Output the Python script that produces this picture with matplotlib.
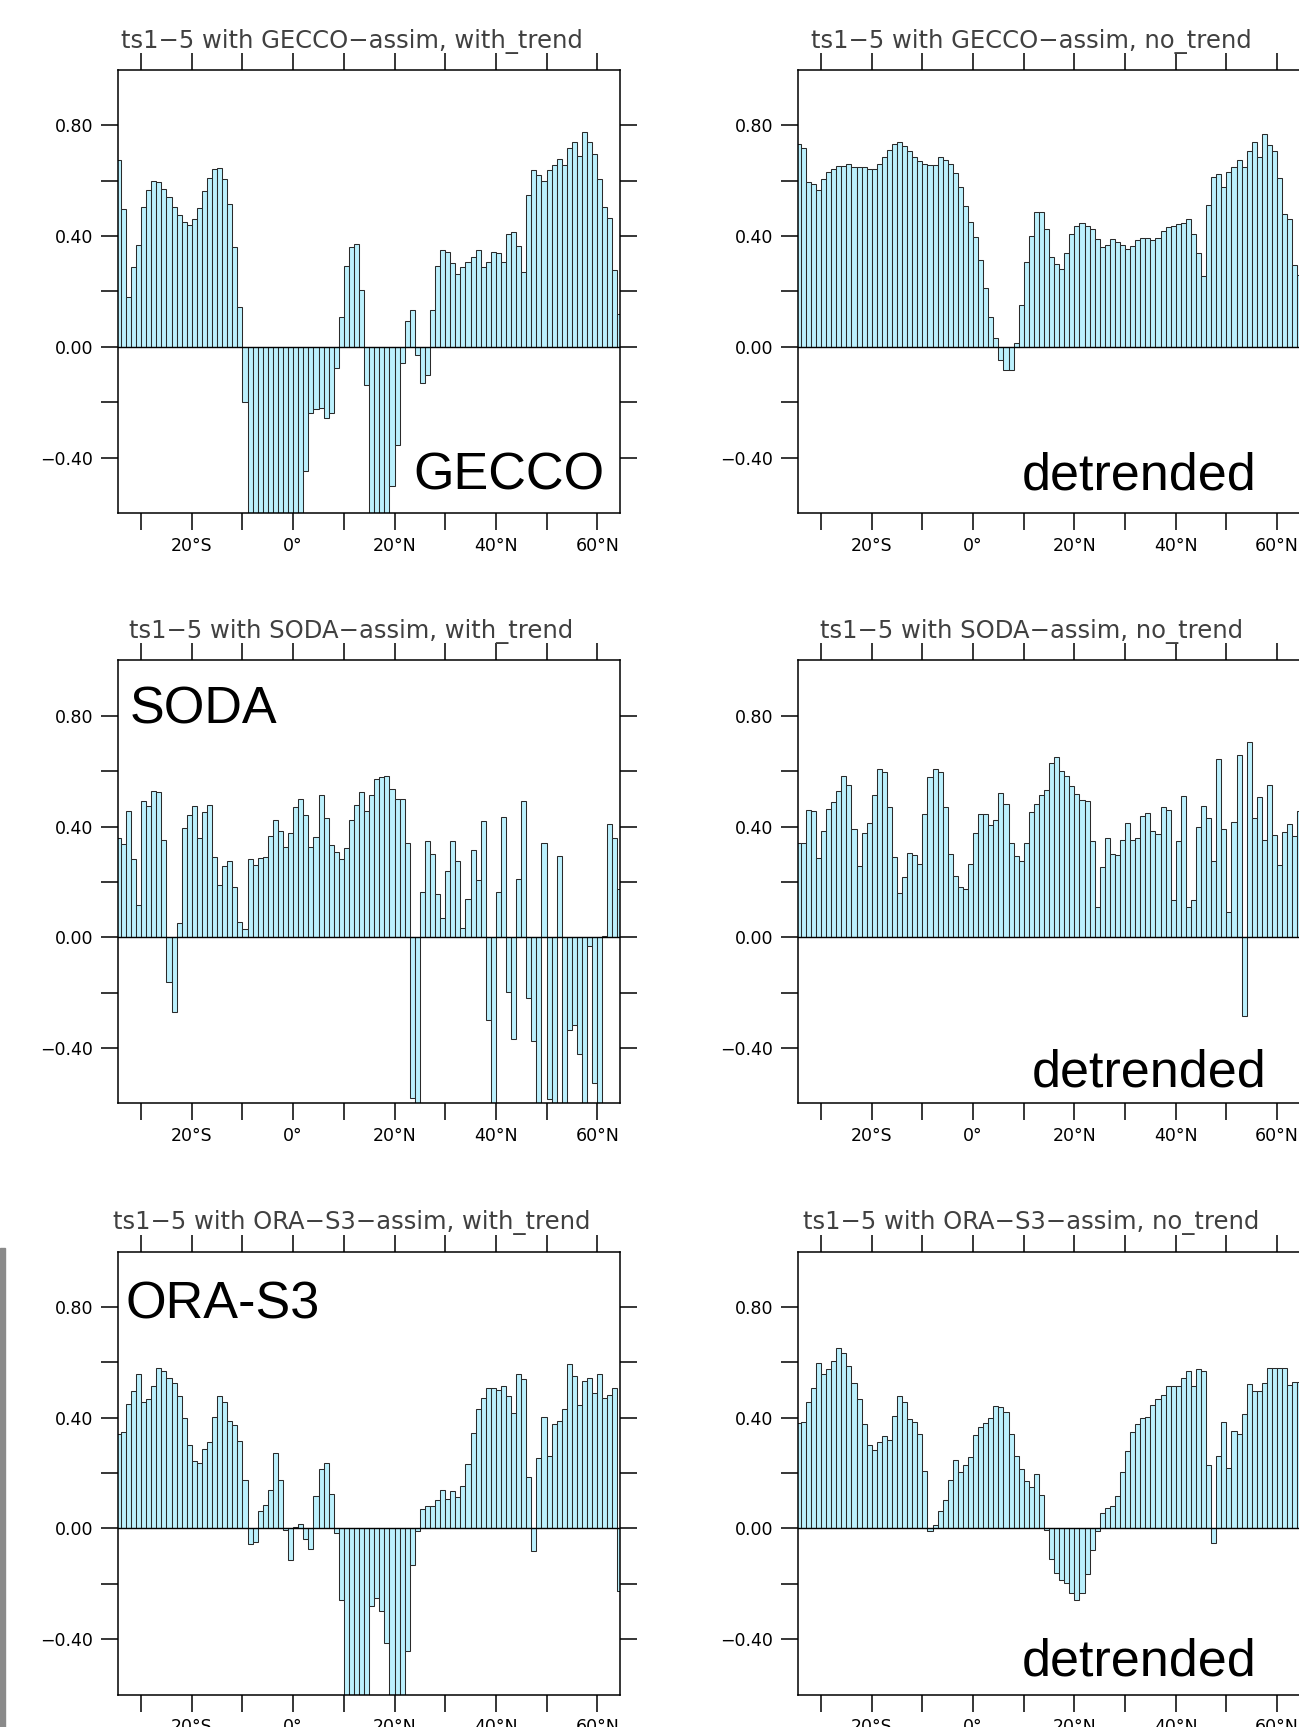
import numpy as np
import matplotlib
matplotlib.use('Agg')
import matplotlib.pyplot as plt
from matplotlib.patches import Rectangle

# bar centres (1 degree bins); values below -0.6 run off the panel
lat = np.arange(-34.5, 65.0, 1.0)

gecco_trend = [
    0.676, 0.498, 0.18, 0.289, 0.366, 0.505, 0.566, 0.60, 0.595, 0.571,
    0.54, 0.504, 0.476, 0.449, 0.44, 0.462, 0.503, 0.562, 0.61, 0.642,
    0.646, 0.606, 0.514, 0.36, 0.144, -0.2,
    -0.7, -0.7, -0.7, -0.7, -0.7, -0.7, -0.7, -0.7, -0.7, -0.7, -0.7,
    -0.448, -0.238, -0.224, -0.222, -0.258, -0.238, -0.078, 0.106, 0.292, 0.36,
    0.372, 0.204, -0.138, -0.7, -0.7, -0.7, -0.7, -0.504, -0.356, -0.06,
    0.094, 0.134, -0.03, -0.132, -0.102, 0.134, 0.292, 0.348, 0.342, 0.304,
    0.264, 0.288, 0.306, 0.326, 0.348, 0.288, 0.306, 0.342, 0.338, 0.308,
    0.406, 0.414, 0.365, 0.27, 0.55, 0.638, 0.62, 0.598, 0.638, 0.658,
    0.68, 0.656, 0.718, 0.738, 0.688, 0.775, 0.738, 0.696, 0.606, 0.504,
    0.466, 0.276, 0.12]
gecco_notrend = [
    0.734, 0.718, 0.594, 0.588, 0.566, 0.606, 0.632, 0.642, 0.652, 0.654,
    0.66, 0.648, 0.648, 0.648, 0.642, 0.642, 0.66, 0.684, 0.71, 0.732,
    0.738, 0.726, 0.708, 0.684, 0.672, 0.66, 0.656, 0.656, 0.684, 0.674,
    0.66, 0.628, 0.576, 0.51, 0.452, 0.396, 0.312, 0.212, 0.108, 0.032,
    -0.046, -0.082, -0.082, 0.014, 0.152, 0.306, 0.402, 0.486, 0.488, 0.426,
    0.326, 0.298, 0.28, 0.34, 0.406, 0.437, 0.448, 0.436, 0.426, 0.39,
    0.362, 0.368, 0.39, 0.38, 0.366, 0.354, 0.364, 0.384, 0.392, 0.392,
    0.384, 0.394, 0.42, 0.432, 0.436, 0.444, 0.446, 0.46, 0.408, 0.34,
    0.254, 0.512, 0.614, 0.624, 0.576, 0.63, 0.65, 0.674, 0.648, 0.708,
    0.74, 0.686, 0.77, 0.73, 0.708, 0.608, 0.48, 0.462, 0.294, 0.26]
soda_trend = [
    0.36, 0.336, 0.457, 0.283, 0.115, 0.492, 0.474, 0.527, 0.525, 0.351,
    -0.16, -0.271, 0.05, 0.395, 0.443, 0.475, 0.357, 0.453, 0.479, 0.29,
    0.187, 0.256, 0.275, 0.182, 0.056, 0.03, 0.281, 0.26, 0.288, 0.289,
    0.365, 0.425, 0.383, 0.327, 0.375, 0.47, 0.498, 0.443, 0.327, 0.363,
    0.515, 0.431, 0.333, 0.307, 0.282, 0.324, 0.423, 0.479, 0.525,
    0.457, 0.513, 0.571, 0.579, 0.582, 0.537, 0.5, 0.5, 0.342, -0.58,
    -0.7, 0.162, 0.347, 0.302, 0.158, 0.071, 0.239, 0.347, 0.275, 0.032,
    0.138, 0.315, 0.206, 0.419, -0.298, -0.7, 0.162, 0.435, -0.196, -0.366,
    0.21, 0.491, -0.22, -0.376, -0.7, 0.342, -0.583, -0.7, 0.295, -0.7,
    -0.334, -0.318, -0.421, -0.7, -0.03, -0.526, -0.7, 0.005, 0.41, 0.36,
    0.173]
soda_notrend = [
    0.341, 0.339, 0.459, 0.456, 0.288, 0.383, 0.462, 0.489, 0.528, 0.581,
    0.549, 0.392, 0.258, 0.377, 0.414, 0.513, 0.606, 0.597, 0.471, 0.29,
    0.161, 0.216, 0.306, 0.297, 0.264, 0.447, 0.579, 0.606, 0.597, 0.471,
    0.3, 0.223, 0.18, 0.175, 0.266, 0.375, 0.447, 0.447, 0.407, 0.423,
    0.521, 0.483, 0.342, 0.294, 0.275, 0.341, 0.454, 0.483, 0.513, 0.533,
    0.629, 0.651, 0.599, 0.581, 0.545, 0.519, 0.495, 0.492, 0.347, 0.11,
    0.254, 0.36, 0.302, 0.297, 0.353, 0.414, 0.353, 0.357, 0.438, 0.449,
    0.384, 0.372, 0.471, 0.459, 0.134, 0.347, 0.509, 0.108, 0.134, 0.399,
    0.473, 0.432, 0.275, 0.645, 0.39, 0.09, 0.417, 0.659, -0.286, 0.707,
    0.432, 0.507, 0.353, 0.551, 0.371, 0.26, 0.381, 0.408, 0.366, 0.455]
ora_trend = [
    0.342, 0.347, 0.449, 0.498, 0.558, 0.456, 0.467, 0.516, 0.579, 0.57,
    0.545, 0.525, 0.48, 0.399, 0.3, 0.245, 0.236, 0.288, 0.312, 0.402,
    0.479, 0.457, 0.387, 0.372, 0.315, 0.176, -0.055, -0.048, 0.062, 0.086,
    0.14, 0.271, 0.176, -0.007, -0.114, 0.006, 0.017, -0.037, -0.076, 0.116,
    0.216, 0.236, 0.125, -0.018, -0.258,
    -0.7, -0.7, -0.7, -0.7, -0.7, -0.28, -0.25, -0.298, -0.415, -0.7,
    -0.7, -0.7, -0.442, -0.132, -0.01, 0.071, 0.08, 0.082, 0.101, 0.137,
    0.108, 0.134, 0.115, 0.152, 0.233, 0.343, 0.432, 0.47, 0.506, 0.506,
    0.5, 0.515, 0.479, 0.417, 0.557, 0.54, 0.185, -0.082, 0.253, 0.401,
    0.262, 0.377, 0.389, 0.432, 0.594, 0.551, 0.444, 0.531, 0.545, 0.489,
    0.559, 0.471, 0.483, 0.506, -0.226]
ora_notrend = [
    0.38, 0.386, 0.458, 0.506, 0.599, 0.558, 0.576, 0.605, 0.65, 0.632,
    0.588, 0.527, 0.467, 0.377, 0.3, 0.282, 0.311, 0.335, 0.318, 0.407,
    0.48, 0.458, 0.395, 0.386, 0.342, 0.206, -0.01, 0.012, 0.062, 0.101,
    0.176, 0.248, 0.204, 0.23, 0.258, 0.336, 0.368, 0.38, 0.398, 0.443,
    0.437, 0.422, 0.341, 0.26, 0.215, 0.173, 0.149, 0.198, 0.122, -0.006,
    -0.109, -0.16, -0.186, -0.196, -0.235, -0.259, -0.235, -0.163, -0.079, -0.01,
    0.056, 0.074, 0.08, 0.116, 0.204, 0.278, 0.348, 0.377, 0.398, 0.402,
    0.444, 0.468, 0.482, 0.516, 0.516, 0.516, 0.545, 0.567, 0.513, 0.574,
    0.57, 0.23, -0.054, 0.263, 0.384, 0.218, 0.353, 0.341, 0.414, 0.522,
    0.495, 0.495, 0.525, 0.581, 0.581, 0.581, 0.581, 0.519, 0.528, 0.53]

titles = [['ts1\u22125 with GECCO\u2212assim, with_trend', 'ts1\u22125 with GECCO\u2212assim, no_trend'],
          ['ts1\u22125 with SODA\u2212assim, with_trend', 'ts1\u22125 with SODA\u2212assim, no_trend'],
          ['ts1\u22125 with ORA\u2212S3\u2212assim, with_trend', 'ts1\u22125 with ORA\u2212S3\u2212assim, no_trend']]
series = [[gecco_trend, gecco_notrend],
          [soda_trend, soda_notrend],
          [ora_trend, ora_notrend]]

xticks = [-30, -20, -10, 0, 10, 20, 30, 40, 50, 60]
xticklabels = ['', '20°S', '', '0°', '', '20°N', '', '40°N', '', '60°N']
yticks = [-0.4, -0.2, 0.0, 0.2, 0.4, 0.6, 0.8]
yticklabels = ['\u22120.40', '', '0.00', '', '0.40', '', '0.80']

fig = plt.figure(figsize=(12.99, 17.27), dpi=100)

lefts = [0.0911, 0.6145]
bottoms = [0.7030, 0.3611, 0.0188]
w, h = 0.3862, 0.2565

axes = {}
for r in range(3):
    for c in range(2):
        ax = fig.add_axes([lefts[c], bottoms[r], w, h])
        ax.bar(lat, series[r][c], width=1.0, color='#bbf0fd',
               edgecolor='#2a2a2a', linewidth=0.75)
        ax.axhline(0, color='black', lw=1.0)
        ax.set_xlim(-34.5, 64.5)
        ax.set_ylim(-0.6, 1.0)
        ax.set_xticks(xticks)
        ax.set_xticklabels(xticklabels)
        ax.set_yticks(yticks)
        ax.set_yticklabels(yticklabels)
        ax.tick_params(axis='both', direction='out', length=12, width=1.1,
                       top=True, right=True, labelsize=12.5, colors='black')
        ax.tick_params(axis='y', pad=6)
        ax.tick_params(axis='x', pad=5)
        for sp in ax.spines.values():
            sp.set_linewidth(1.1)
        ax.text(0.465, 1.05, titles[r][c], transform=ax.transAxes,
                ha='center', va='baseline', fontsize=17.5, color='#404040')
        axes[(r, c)] = ax

big = dict(family='Liberation Sans', fontsize=37.5, color='black')
axes[(0, 0)].text(0.970, 0.052, 'GECCO', transform=axes[(0, 0)].transAxes,
                  ha='right', va='baseline', **big)
axes[(0, 1)].text(0.914, 0.052, 'detrended', transform=axes[(0, 1)].transAxes,
                  ha='right', va='baseline', **big)
axes[(1, 0)].text(0.022, 0.858, 'SODA', transform=axes[(1, 0)].transAxes,
                  ha='left', va='baseline', **big)
axes[(1, 1)].text(0.934, 0.0375, 'detrended', transform=axes[(1, 1)].transAxes,
                  ha='right', va='baseline', **big)
axes[(2, 0)].text(0.015, 0.849, 'ORA-S3', transform=axes[(2, 0)].transAxes,
                  ha='left', va='baseline', **big)
axes[(2, 1)].text(0.914, 0.044, 'detrended', transform=axes[(2, 1)].transAxes,
                  ha='right', va='baseline', **big)

# grey strip at the left edge of the page scan
fig.patches.append(Rectangle((0, 0), 5.5 / 1299, 479 / 1727, transform=fig.transFigure,
                             color='#8a8a8a', zorder=0))

fig.savefig('out.png', dpi=100)
